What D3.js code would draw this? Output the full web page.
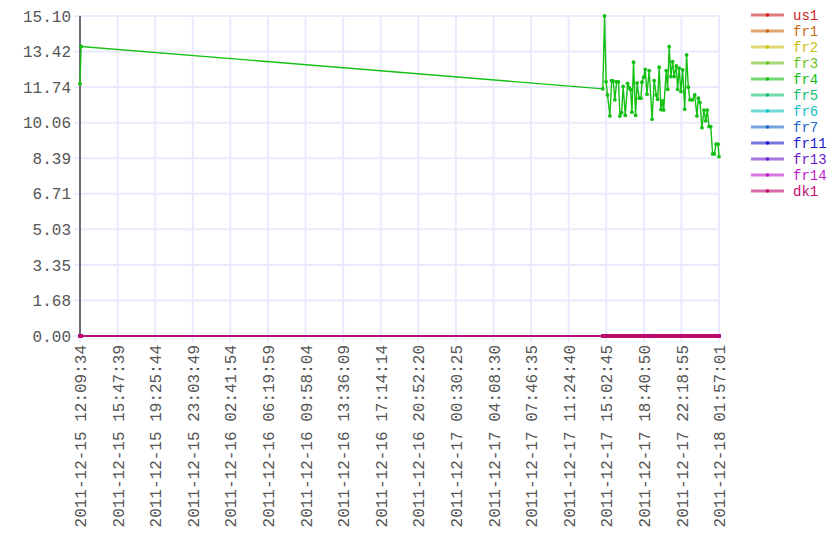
<!DOCTYPE html>
<html>
<head>
<meta charset="utf-8">
<script src="https://cdn.jsdelivr.net/npm/d3@7"></script>
<style>
  body { margin: 0; background: #fff; }
  text { font-family: "Liberation Mono", monospace; font-size: 16px; }
</style>
</head>
<body>
<svg id="chart" width="840" height="560"></svg>
<script>
var margin = {l: 80, t: 16, r: 121, b: 224};
var width = 840, height = 560;

var seriesNames = ["us1", "fr1", "fr2", "fr3", "fr4", "fr5", "fr6", "fr7", "fr11", "fr13", "fr14", "dk1"];
var seriesColors = ["#cc1f1f", "#cc6a14", "#c8c010", "#6cc01a", "#14c014", "#14c070", "#14c0c0", "#1a66cc", "#1a1acc", "#6a1acc", "#c01acc", "#c00a6a"];

// sample times (shared by every series)
var times = [
  "2011-12-15 12:09:34", "2011-12-15 12:16:10",
  "2011-12-17 14:43:00", "2011-12-17 14:53:00", "2011-12-17 15:02:00", "2011-12-17 15:10:00",
  "2011-12-17 15:24:00", "2011-12-17 15:34:00", "2011-12-17 15:43:00", "2011-12-17 15:53:00",
  "2011-12-17 16:03:00", "2011-12-17 16:14:00", "2011-12-17 16:22:00", "2011-12-17 16:32:00",
  "2011-12-17 16:41:00", "2011-12-17 16:53:00", "2011-12-17 17:07:00", "2011-12-17 17:16:00",
  "2011-12-17 17:24:00", "2011-12-17 17:32:00", "2011-12-17 17:41:00", "2011-12-17 17:53:00",
  "2011-12-17 18:02:00", "2011-12-17 18:14:00", "2011-12-17 18:24:00", "2011-12-17 18:30:00",
  "2011-12-17 18:40:00", "2011-12-17 18:49:00", "2011-12-17 18:59:00", "2011-12-17 19:12:00",
  "2011-12-17 19:29:00", "2011-12-17 19:41:00", "2011-12-17 19:53:00", "2011-12-17 20:01:00",
  "2011-12-17 20:10:00", "2011-12-17 20:20:00", "2011-12-17 20:30:00", "2011-12-17 20:36:00",
  "2011-12-17 20:51:00", "2011-12-17 20:59:00", "2011-12-17 21:08:00", "2011-12-17 21:18:00",
  "2011-12-17 21:28:00", "2011-12-17 21:37:00", "2011-12-17 21:49:00", "2011-12-17 21:57:00",
  "2011-12-17 22:06:00", "2011-12-17 22:16:00", "2011-12-17 22:26:00", "2011-12-17 22:38:00",
  "2011-12-17 22:49:00", "2011-12-17 22:59:00", "2011-12-17 23:08:00", "2011-12-17 23:22:00",
  "2011-12-17 23:36:00", "2011-12-17 23:49:00", "2011-12-17 23:57:00", "2011-12-18 00:07:00",
  "2011-12-18 00:18:00", "2011-12-18 00:30:00", "2011-12-18 00:40:00", "2011-12-18 00:49:00",
  "2011-12-18 00:59:00", "2011-12-18 01:09:00", "2011-12-18 01:20:00", "2011-12-18 01:30:00",
  "2011-12-18 01:40:00", "2011-12-18 01:52:00", "2011-12-18 01:57:01"
];

// fr4 is the only series that is not flat at zero
var fr4Values = [
  11.90, 13.66,
  11.66, 15.096, 12.00, 11.37,
  10.38, 12.05, 12.02, 11.14,
  12.00, 11.99, 10.38, 10.54,
  11.78, 10.41, 11.92, 11.72,
  11.62, 10.56, 12.92, 10.41,
  11.94, 11.22, 11.22, 11.97,
  12.21, 12.58, 11.41, 12.52,
  10.23, 12.05, 11.37, 11.17,
  12.68, 10.68, 11.09, 10.66,
  12.52, 11.64, 13.65, 12.24,
  12.94, 12.24, 12.74, 11.64,
  12.63, 11.53, 12.55, 10.70,
  13.26, 11.74, 11.14, 11.14,
  11.37, 10.38, 11.22, 11.01,
  9.83, 10.66, 10.15, 10.66,
  9.88, 9.88, 8.59, 8.59,
  9.05, 9.05, 8.46
];

var xTickCount = 18, yTickCount = 10;

var parseTime = d3.timeParse("%Y-%m-%d %H:%M:%S");
var fmtTime = d3.timeFormat("%Y-%m-%d %H:%M:%S");
var dates = times.map(parseTime);

var series = seriesNames.map(function(name, i) {
  var vals = name == "fr4" ? fr4Values : times.map(function() { return 0; });
  return {name: name, color: seriesColors[i], points: dates.map(function(d, j) { return {t: d, v: vals[j]}; })};
});

var plotW = width - margin.l - margin.r, plotH = height - margin.t - margin.b;
var yMax = d3.max(series, function(s) { return d3.max(s.points, function(p) { return p.v; }); });

var x = d3.scaleTime().domain(d3.extent(dates)).range([0, plotW]);
var y = d3.scaleLinear().domain([0, yMax]).range([plotH, 0]);

var xTicks = d3.range(xTickCount).map(function(i) {
  return new Date(+dates[0] + (dates[dates.length - 1] - dates[0]) * i / (xTickCount - 1));
});
var yTicks = d3.range(yTickCount).map(function(i) { return yMax * i / (yTickCount - 1); });

var svg = d3.select("#chart");
var plot = svg.append("g").attr("transform", "translate(" + margin.l + "," + margin.t + ")");

// grid
plot.append("g").selectAll("line").data(yTicks).enter().append("line")
  .attr("x1", -6).attr("x2", plotW + 1)
  .attr("y1", function(d) { return y(d); }).attr("y2", function(d) { return y(d); })
  .attr("stroke", "#eaeafc").attr("stroke-width", 2);
plot.append("g").selectAll("line").data(xTicks).enter().append("line")
  .attr("x1", function(d) { return x(d); }).attr("x2", function(d) { return x(d); })
  .attr("y1", 0).attr("y2", plotH + 6)
  .attr("stroke", "#eaeafc").attr("stroke-width", 2);

// axes (labels only, lines drawn by the grid)
var yAxis = plot.append("g")
  .call(d3.axisLeft(y).tickValues(yTicks).tickFormat(d3.format(".2f")).tickSize(0).tickPadding(9));
yAxis.select(".domain").remove();
yAxis.selectAll("text").attr("fill", "#555").style("font-size", "16px").style("font-family", "Liberation Mono, monospace");

var xAxis = plot.append("g").attr("transform", "translate(0," + plotH + ")")
  .call(d3.axisBottom(x).tickValues(xTicks).tickFormat(fmtTime).tickSize(0));
xAxis.select(".domain").remove();
xAxis.selectAll("text")
  .attr("fill", "#555").style("font-size", "16px").style("font-family", "Liberation Mono, monospace")
  .attr("transform", "rotate(-90)")
  .attr("text-anchor", "end")
  .attr("x", -9).attr("y", 0).attr("dy", "0.35em");

plot.append("line")
  .attr("x1", 0).attr("x2", 0).attr("y1", 0).attr("y2", plotH)
  .attr("stroke", "#6b6b78").attr("stroke-width", 2);

// series
var line = d3.line().x(function(p) { return x(p.t); }).y(function(p) { return y(p.v); });
var sg = plot.selectAll(".series").data(series).enter().append("g").attr("class", "series");
sg.append("path")
  .attr("d", function(s) { return line(s.points); })
  .attr("fill", "none")
  .attr("stroke", function(s) { return s.color; })
  .attr("stroke-width", 1.4);
sg.selectAll("circle").data(function(s) { return s.points.map(function(p) { return {p: p, c: s.color}; }); })
  .enter().append("circle")
  .attr("cx", function(d) { return x(d.p.t); })
  .attr("cy", function(d) { return y(d.p.v); })
  .attr("r", 1.9)
  .attr("fill", function(d) { return d.c; });

// legend
var legend = svg.append("g").attr("transform", "translate(751,15)");
var li = legend.selectAll("g").data(series).enter().append("g")
  .attr("transform", function(d, i) { return "translate(0," + (i * 16) + ")"; });
li.append("line").attr("x1", 0).attr("x2", 33).attr("y1", 0).attr("y2", 0)
  .attr("stroke", function(d) { return d.color; }).attr("stroke-width", 3).attr("stroke-opacity", 0.6);
li.append("circle").attr("cx", 16.5).attr("cy", 0).attr("r", 1.8)
  .attr("fill", function(d) { return d.color; });
li.append("text").attr("x", 42).attr("dy", "0.35em")
  .attr("fill", function(d) { return d.color; })
  .style("font-size", "14px")
  .text(function(d) { return d.name; });
</script>
</body>
</html>
